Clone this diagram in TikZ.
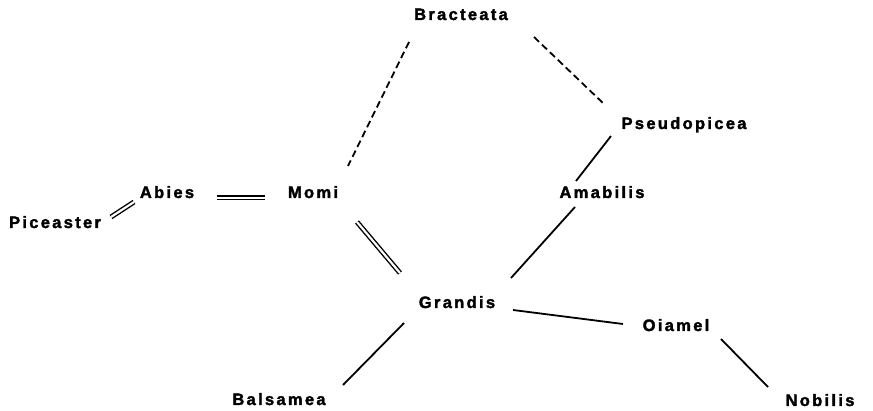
\documentclass[tikz,border=0pt]{standalone}
\usepackage{fontspec}
\setmainfont{Liberation Sans}[LetterSpace=14, BoldFeatures={FakeBold=2}]
\usetikzlibrary{calc}
\tikzset{
  taxon/.style={anchor=base, inner sep=0pt, font=\fontsize{16.5}{16.5}\selectfont\bfseries},
  link/.style={line width=1.8pt},
  weak/.style={line width=1.8pt, dash pattern=on 7pt off 4pt},
  strong/.style={double, double distance=2.2pt, line width=1.4pt},
}
\begin{document}
\begin{tikzpicture}[x=1pt, y=-1pt]
\useasboundingbox (0,0) rectangle (873,411);
% section names
\node[taxon] (bract) at (461,20) {Bracteata};
\node[taxon] (pseudo) at (684,129) {Pseudopicea};
\node[taxon] (abies) at (167,198) {Abies};
\node[taxon] (momi) at (313,198) {Momi};
\node[taxon] (amab) at (602,198) {Amabilis};
\node[taxon] (pic) at (55,228) {Piceaster};
\node[taxon] (grand) at (457,308) {Grandis};
\node[taxon] (oiam) at (676,331) {Oiamel};
\node[taxon] (bals) at (279,405) {Balsamea};
\node[taxon] (nob) at (820,406) {Nobilis};
% weak relations
\draw[weak] ($(bract.base)+(-52,22)$) -- ($(momi.base)+(35,-32)$);
\draw[weak] ($(bract.base)+(73,17)$) -- ($(pseudo.base)+(-79,-24)$);
% ordinary relations
\draw[link] ($(pseudo.base)+(-73,7)$) -- ($(amab.base)+(-26,-17)$);
\draw[link] ($(amab.base)+(-27,9)$) -- ($(grand.base)+(54,-30)$);
\draw[link] ($(grand.base)+(56,2)$) -- ($(oiam.base)+(-53,-7)$);
\draw[link] ($(grand.base)+(-53,15)$) -- ($(bals.base)+(64,-20)$);
\draw[link] ($(oiam.base)+(45,8)$) -- ($(nob.base)+(-52,-19)$);
% close relations
\draw[strong] ($(momi.base)+(44,24)$) -- ($(grand.base)+(-57,-35)$);
\draw[strong] ($(abies.base)+(50,0)$) -- ($(momi.base)+(-48,0)$);
\draw[strong] ($(pic.base)+(56,-11)$) -- ($(abies.base)+(-33,4)$);
\end{tikzpicture}
\end{document}
